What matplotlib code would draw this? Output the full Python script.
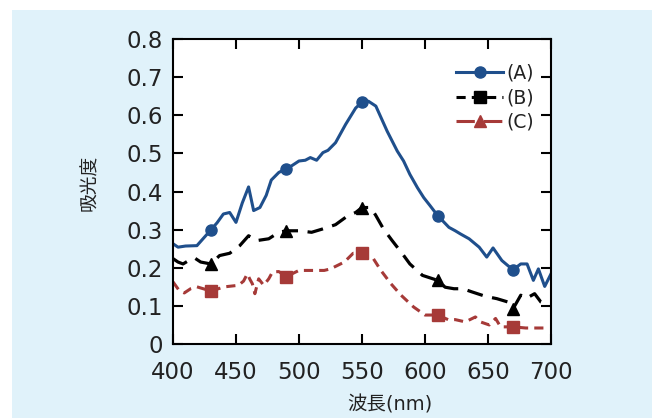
import matplotlib
matplotlib.use('Agg')
import matplotlib.pyplot as plt
from matplotlib.lines import Line2D
from matplotlib.patches import Rectangle
import numpy as np

# DejaVu for latin/digits, Noto CJK picks up the Japanese glyphs
plt.rcParams['font.family'] = ['DejaVu Sans', 'Noto Sans CJK JP']

# wavelengths where markers are drawn
marker_wl = [430, 490, 550, 610, 670]

wl_a = [400, 404, 410, 419, 430, 435, 440, 445, 450, 455, 460, 464, 469, 474, 478, 484, 490, 494,
        500, 505, 509, 514, 519, 523, 529, 537, 545, 550, 555, 561, 570, 578, 583, 588, 594, 599,
        604, 610, 619, 624, 628, 635, 643, 649, 654, 661, 666, 670, 676, 681, 686, 690, 695, 700]
abs_a = [0.263, 0.254, 0.257, 0.258, 0.299, 0.318, 0.341, 0.345, 0.319, 0.37, 0.412, 0.35, 0.358,
         0.39, 0.43, 0.45, 0.46, 0.467, 0.48, 0.482, 0.489, 0.482, 0.502, 0.508, 0.528, 0.576, 0.619,
         0.634, 0.637, 0.624, 0.558, 0.506, 0.48, 0.445, 0.41, 0.384, 0.363, 0.337, 0.306, 0.297,
         0.289, 0.276, 0.254, 0.228, 0.252, 0.219, 0.205, 0.195, 0.21, 0.21, 0.167, 0.197, 0.151, 0.184]

wl_b = [400, 404, 408, 413, 417, 422, 430, 437, 445, 453, 460, 466, 476, 484, 490, 500, 510, 519,
        529, 539, 545, 550, 557, 561, 567, 574, 582, 588, 598, 610, 616, 623, 630, 637, 648, 657,
        666, 670, 676, 680, 687, 692, 696]
abs_b = [0.224, 0.215, 0.21, 0.22, 0.226, 0.215, 0.21, 0.232, 0.238, 0.258, 0.284, 0.271, 0.276,
         0.293, 0.297, 0.297, 0.293, 0.302, 0.313, 0.337, 0.345, 0.358, 0.358, 0.337, 0.302, 0.271,
         0.237, 0.21, 0.18, 0.167, 0.149, 0.145, 0.145, 0.137, 0.125, 0.119, 0.11, 0.093, 0.128,
         0.119, 0.132, 0.11, 0.105]

wl_c = [400, 405, 409, 414, 419, 430, 441, 452, 456, 459, 461, 463, 465, 468, 472, 476, 479, 484,
        490, 500, 509, 520, 525, 536, 543, 550, 559, 565, 573, 581, 591, 600, 610, 619, 624, 632,
        640, 644, 651, 656, 660, 670, 680, 696]
abs_c = [0.163, 0.14, 0.134, 0.145, 0.15, 0.139, 0.15, 0.154, 0.165, 0.184, 0.17, 0.158, 0.132,
         0.171, 0.154, 0.171, 0.189, 0.19, 0.177, 0.193, 0.193, 0.193, 0.197, 0.215, 0.238, 0.238,
         0.224, 0.193, 0.158, 0.128, 0.097, 0.076, 0.076, 0.063, 0.064, 0.058, 0.071, 0.058, 0.05,
         0.067, 0.045, 0.045, 0.042, 0.042]

labels = ['(A)', '(B)', '(C)']
xticks = [400, 450, 500, 550, 600, 650, 700]
yticks = [0, 0.1, 0.2, 0.3, 0.4, 0.5, 0.6, 0.7, 0.8]
ytick_labels = ['0', '0.1', '0.2', '0.3', '0.4', '0.5', '0.6', '0.7', '0.8']

blue = '#1f4f8c'
red = '#a63a38'


def marks(wl):
    return list(np.where(np.isin(wl, marker_wl))[0])


fig = plt.figure(figsize=(6.52, 4.18), dpi=100)
fig.patch.set_facecolor('white')
# light blue panel behind the chart
fig.patches.append(Rectangle((12 / 652, 0), 1, 1 - 10 / 418, transform=fig.transFigure,
                             facecolor='#e0f2fa', edgecolor='none', zorder=-10))

ax = fig.add_axes([0.2653, 0.177, 0.5798, 0.7297])
ax.set_zorder(1)
ax.set_facecolor('white')

ax.plot(wl_a, abs_a, color=blue, lw=2.2, marker='o', ms=8, markevery=marks(wl_a))
ax.plot(wl_b, abs_b, color='black', lw=2.3, dashes=(5, 3), marker='^', ms=8,
        markevery=marks(wl_b))
ax.plot(wl_c, abs_c, color=red, lw=2.2, dashes=(3, 2), marker='s', ms=8,
        markevery=marks(wl_c))

ax.set_xlim(400, 700)
ax.set_ylim(0, 0.8)
ax.set_xticks(xticks)
ax.set_yticks(yticks)
ax.set_yticklabels(ytick_labels)
ax.tick_params(direction='in', length=7, width=1.5, top=True, right=True, labelsize=16.5,
               labelcolor='#222222')
ax.tick_params(axis='x', pad=12)
ax.tick_params(axis='y', pad=7)
for s in ax.spines.values():
    s.set_linewidth(1.5)

ax.set_xlabel('波長(nm)', fontsize=14, color='#222222')
ax.xaxis.set_label_coords(0.574, -0.168)
ax.set_ylabel('吸光度', fontsize=13.5, color='#222222')
ax.yaxis.set_label_coords(-0.196, 0.528)

# legend (markers as in the original legend)
handles = [
    Line2D([], [], color=blue, lw=2.2, marker='o', ms=8),
    Line2D([], [], color='black', lw=2.2, dashes=(3, 2), marker='s', ms=8),
    Line2D([], [], color=red, lw=2.2, dashes=(6, 3), marker='^', ms=8),
]
ax.legend(handles, labels, loc='upper left', bbox_to_anchor=(0.725, 0.95), frameon=False,
          fontsize=13.5, handlelength=2.5, handletextpad=0.15, labelspacing=0.3, borderpad=0,
          labelcolor='#222222')

fig.savefig('out.png', dpi=100)
